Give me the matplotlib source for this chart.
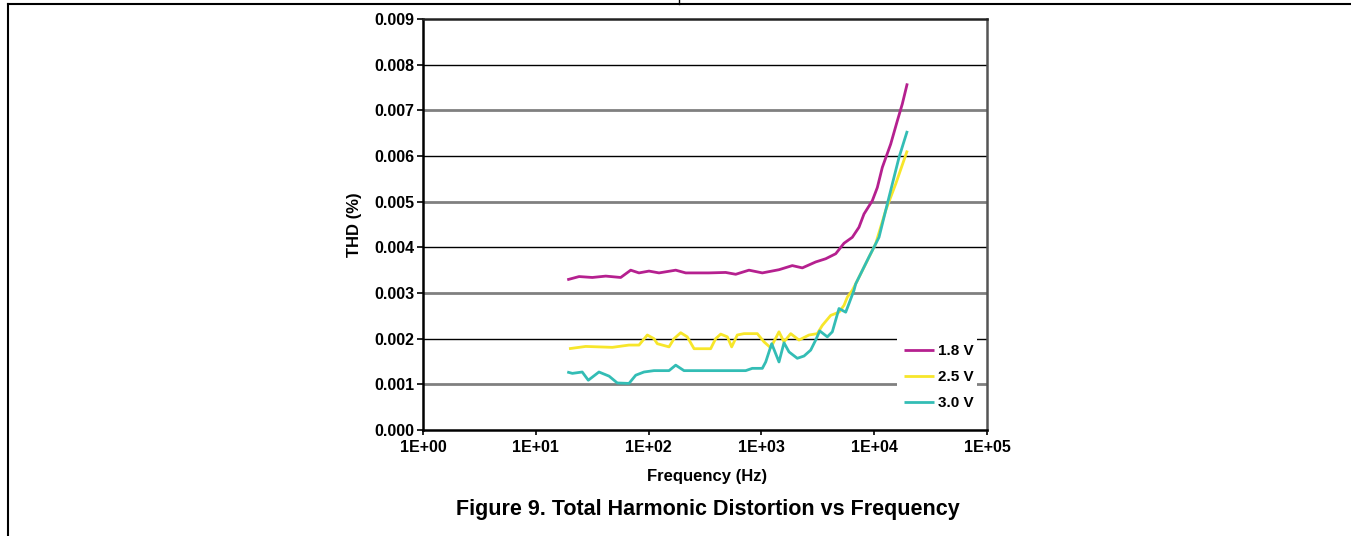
import matplotlib
matplotlib.use("Agg")
import matplotlib.pyplot as plt
from matplotlib.lines import Line2D
from matplotlib.patches import Rectangle

# ---- data ----
freq_18 = [19.0, 24.2, 31.7, 41.7, 56.6, 69.4, 82.2, 100.8, 123.7, 173.9, 213.3, 343, 482, 592,
           776, 1019, 1432, 1879, 2306, 3030, 3716, 4560, 5400, 6397, 7330, 8120, 9620,
           10660, 11800, 14000, 16030, 17750, 19650]
thd_18 = [0.00329, 0.00336, 0.00334, 0.00337, 0.00334, 0.00350, 0.00344, 0.00348, 0.00344,
          0.00350, 0.00344, 0.00344, 0.00345, 0.00341, 0.00350, 0.00344, 0.00351, 0.00360,
          0.00355, 0.00368, 0.00375, 0.00386, 0.00409, 0.00422, 0.00444, 0.00473, 0.00502,
          0.00531, 0.00575, 0.00626, 0.00677, 0.00714, 0.00759]

freq_25 = [19.7, 27.7, 47.7, 67.0, 82.2, 97.4, 111.6, 119.4, 151.7, 168, 192.6, 220, 253,
           355, 393, 436, 499, 545, 611, 701, 920, 1055, 1209, 1432, 1586, 1819, 2155, 2643,
           3130, 3467, 4115, 4875, 5400, 5780, 6397, 6855, 8410, 10310, 12650, 15520, 19650]
thd_25 = [0.00178, 0.00183, 0.00181, 0.00186, 0.00186, 0.00208, 0.00200, 0.00189, 0.00182,
          0.00200, 0.00213, 0.00204, 0.00178, 0.00178, 0.00200, 0.00210, 0.00204, 0.00182,
          0.00208, 0.00211, 0.00211, 0.00193, 0.00180, 0.00215, 0.00193, 0.00211, 0.00197,
          0.00208, 0.00211, 0.00229, 0.00251, 0.00258, 0.00273, 0.00291, 0.00306, 0.00320,
          0.00364, 0.00408, 0.00481, 0.00539, 0.00612]

freq_30 = [19.0, 21.1, 25.8, 29.2, 36.3, 44.6, 52.8, 67.0, 76.9, 91.0, 111.6, 151.7, 173.9,
           206, 726, 830, 1019, 1092, 1234, 1432, 1586, 1757, 2081, 2387, 2736, 3030, 3288,
           3840, 4253, 4875, 5590, 5980, 6620, 6855, 8995, 11030, 13530, 16600, 19650]
thd_30 = [0.00127, 0.00124, 0.00127, 0.00109, 0.00127, 0.00118, 0.00103, 0.00102, 0.00120,
          0.00127, 0.00130, 0.00130, 0.00142, 0.00130, 0.00130, 0.00135, 0.00135, 0.00149,
          0.00189, 0.00149, 0.00191, 0.00171, 0.00157, 0.00162, 0.00175, 0.00197, 0.00217,
          0.00204, 0.00215, 0.00266, 0.00258, 0.00277, 0.00306, 0.00320, 0.00379, 0.00422,
          0.00510, 0.00597, 0.00655]

series_labels = ["1.8 V", "2.5 V", "3.0 V"]
series_colors = ["#B5208F", "#F7E62A", "#33BDB5"]

x_ticks = [1, 10, 100, 1000, 10000, 100000]
x_ticklabels = ["1E+00", "1E+01", "1E+02", "1E+03", "1E+04", "1E+05"]
y_ticks = [0.000, 0.001, 0.002, 0.003, 0.004, 0.005, 0.006, 0.007, 0.008, 0.009]
y_ticklabels = ["0.000", "0.001", "0.002", "0.003", "0.004", "0.005", "0.006", "0.007",
                "0.008", "0.009"]

plt.rcParams['font.family'] = ['Liberation Sans', 'DejaVu Sans']

W, H = 1351, 536
fig = plt.figure(figsize=(W / 100, H / 100), dpi=100)
ax = fig.add_axes([423 / W, 1 - 430 / H, (987 - 423) / W, (430 - 19) / H])

# page frame lines
fig.add_artist(Line2D([7.5 / W, 1], [1 - 4 / H, 1 - 4 / H], color="black", lw=1.5,
                      transform=fig.transFigure))
fig.add_artist(Line2D([7.5 / W, 7.5 / W], [0, 1 - 4 / H], color="black", lw=1.5,
                      transform=fig.transFigure))
fig.add_artist(Line2D([679 / W, 679 / W], [1 - 4 / H, 1], color="black", lw=1.0,
                      transform=fig.transFigure))

# grid lines (alternating grey / black)
for i, yv in enumerate(y_ticks[1:-1], start=1):
    if i % 2 == 1:
        ax.axhline(yv, color="#808080", lw=2.0, zorder=1)
    else:
        ax.axhline(yv, color="black", lw=1.0, zorder=1)

for f, t, lab, c in zip([freq_18, freq_25, freq_30], [thd_18, thd_25, thd_30],
                        series_labels, series_colors):
    ax.plot(f, t, color=c, lw=2.0, label=lab, zorder=3,
            solid_joinstyle="round", solid_capstyle="butt")

ax.set_xscale("log")
ax.set_xlim(1, 100000)
ax.set_ylim(0, 0.009)
ax.set_xticks(x_ticks)
ax.set_xticklabels(x_ticklabels, fontsize=11.5, fontweight="bold")
ax.minorticks_off()
ax.set_yticks(y_ticks)
ax.set_yticklabels(y_ticklabels, fontsize=11.5, fontweight="bold")
ax.tick_params(axis="x", direction="out", length=3.5, width=1.2, pad=4)
ax.tick_params(axis="y", direction="out", length=4.5, width=1.2, pad=1.5)

for s in ["left", "bottom"]:
    ax.spines[s].set_linewidth(1.8)
    ax.spines[s].set_color("black")
ax.spines["top"].set_linewidth(1.8)
ax.spines["top"].set_color("#222222")
ax.spines["right"].set_linewidth(1.8)
ax.spines["right"].set_color("#555555")

ax.set_xlabel("Frequency (Hz)", fontsize=12, fontweight="bold", va="center")
ax.xaxis.set_label_coords((707 - 423) / 564, (430 - 476) / 411)
ax.set_ylabel("THD (%)", fontsize=12, fontweight="bold", va="center")
ax.yaxis.set_label_coords((355 - 423) / 564, 0.5)

# white legend background
ax.add_patch(Rectangle(((897 - 423) / 564, (430 - 421) / 411), 80 / 564, 92 / 411,
                       transform=ax.transAxes, facecolor="white", edgecolor="none", zorder=2))
leg = ax.legend(loc="upper left", bbox_to_anchor=((904 - 423) / 564, (430 - 344) / 411),
                frameon=False, prop={"size": 11, "weight": "bold"}, handlelength=1.95,
                handletextpad=0.3, labelspacing=0.8, borderpad=0.0, borderaxespad=0.0)
for h in leg.get_lines():
    h.set_linewidth(2.0)
leg.set_zorder(5)

fig.text(707.5 / W, 1 - 509 / H, "Figure 9. Total Harmonic Distortion vs Frequency",
         ha="center", va="center", fontsize=15.5, fontweight="bold")

fig.savefig("out.png", dpi=100)
